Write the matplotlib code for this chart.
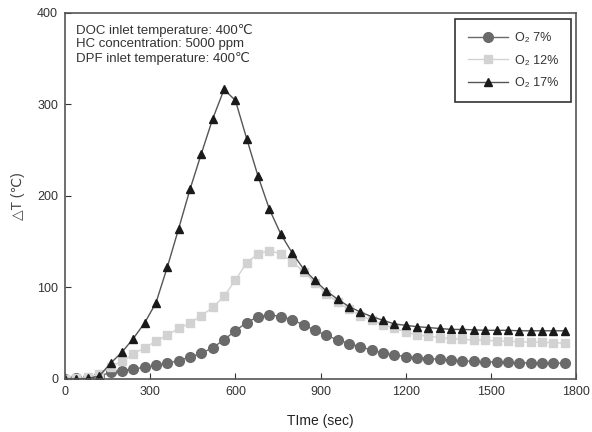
#!/usr/bin/env python3
# Temperature rise vs time for three O2 levels
import numpy as np
import matplotlib.pyplot as plt

plt.rcParams['font.family'] = ['Liberation Sans', 'DejaVu Sans']

time_s = list(range(0, 1800, 40))

o2_7 = [0, 0.5, 1, 3, 7, 9, 11, 12.5, 14.6, 17, 20, 23.7, 28, 34, 42.7,
        52.6, 61.5, 68, 70, 68, 64.5, 59, 53, 47.5, 42.7, 38.5, 35, 31.5,
        28, 26, 24.4, 23.3, 22, 21.5, 20.4, 19.7, 19, 18.7, 18.4, 18, 17.6,
        17.6, 17.2, 17.2, 17]

o2_12 = [0, 0.5, 1.5, 5, 13.5, 19, 27, 34, 41, 48, 55, 61, 69, 78, 90,
         108, 127, 136.5, 140, 136.5, 128, 117, 105, 93, 84, 76, 69, 64,
         59, 55.5, 51, 48, 46.5, 45, 44, 43, 42.5, 42, 41.5, 41, 40.5, 40,
         40, 39.5, 39]

o2_17 = [0, 0, 0.5, 3, 17, 29, 44, 61, 83, 122, 164, 207, 246, 284, 316,
         304, 262, 221, 185, 158, 137.5, 120, 107.5, 96, 87, 79, 73, 68,
         64, 60, 58.4, 57, 56, 55, 54, 54, 53.5, 53, 53, 53, 52.5, 52.5,
         52.5, 52.5, 52.5]

labels = ['O\u2082 7%', 'O\u2082 12%', 'O\u2082 17%']

fig = plt.figure(figsize=(5.92, 4.32), dpi=100)
ax = fig.add_axes([0.110, 0.123, 0.863, 0.848])

ax.plot(time_s, o2_7, '-o', color='#6a6a6a', lw=1, ms=7, mec='#6a6a6a', label=labels[0])
ax.plot(time_s, o2_12, '-s', color='#d2d2d2', lw=1, ms=5.5, mec='#d2d2d2', label=labels[1])
ax.plot(time_s, o2_17, '-^', color='#555555', lw=1, ms=6, mfc='#1a1a1a',
        mec='#1a1a1a', label=labels[2])

ax.set_xlim(0, 1800)
ax.set_ylim(0, 400)
ax.set_xticks([0, 300, 600, 900, 1200, 1500, 1800])
ax.set_yticks([0, 100, 200, 300, 400])
ax.tick_params(direction='in', length=4, labelsize=9, colors='#333333', pad=5)
for s in ax.spines.values():
    s.set_color('#555555')
    s.set_linewidth(1.2)

ax.set_xlabel('TIme (sec)', fontsize=10, color='#222222', labelpad=12)
ax.set_ylabel('\u25b3T (\u2103)', fontsize=10, color='#444444', labelpad=9)

ax.text(0.022, 0.97, 'DOC inlet temperature: 400\u2103\nHC concentration: 5000 ppm\n'
        'DPF inlet temperature: 400\u2103', transform=ax.transAxes, va='top',
        ha='left', fontsize=9.5, color='#333333', linespacing=1.2)

leg = ax.legend(loc='upper right', bbox_to_anchor=(0.995, 0.988), fontsize=9,
                fancybox=False, framealpha=1, edgecolor='#333333',
                handlelength=3.2, borderpad=1.0, labelspacing=0.85,
                handletextpad=0.6, borderaxespad=0.2)
leg.get_frame().set_linewidth(1.2)
for t in leg.get_texts():
    t.set_color('#333333')

fig.savefig('out.png', dpi=100)
